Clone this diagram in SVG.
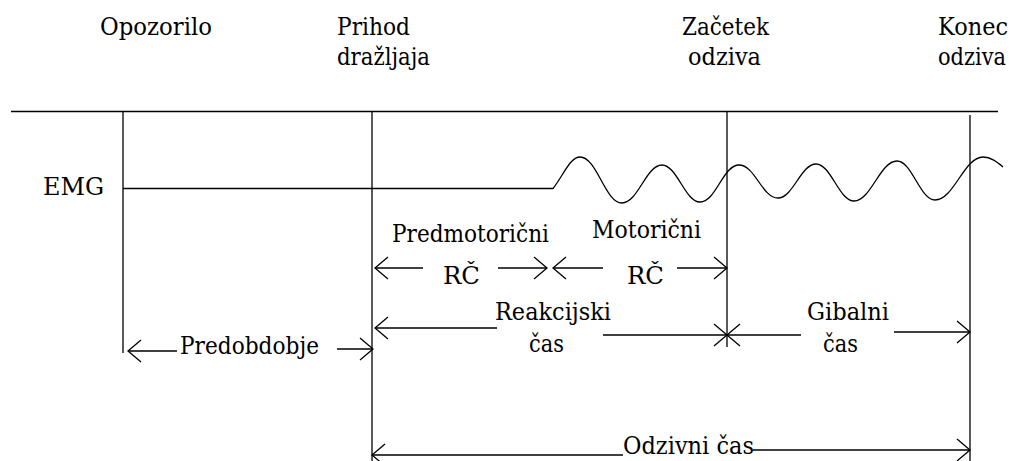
<svg xmlns="http://www.w3.org/2000/svg" width="1018" height="461" viewBox="0 0 1018 461">
<style>
.t text{font-family:"DejaVu Serif","Liberation Serif",serif;font-size:25px;fill:#000}
.ln{stroke:#000;stroke-width:1.3;fill:none}
.ar{stroke:#000;stroke-width:1.3;fill:none;marker-end:url(#ah)}
.al{stroke:#000;stroke-width:1.3;fill:none;marker-start:url(#ah)}
</style>
<defs>
<marker id="ah" markerUnits="userSpaceOnUse" viewBox="-15 -13 17 26" refX="0" refY="0" markerWidth="17" markerHeight="26" orient="auto-start-reverse">
<path d="M-13,-11 L0,0 L-13,11" fill="none" stroke="#000" stroke-width="1.3"/>
</marker>
</defs>
<rect width="1018" height="461" fill="#fff"/>
<g id="connectors">
<line class="ln" x1="11" y1="111.5" x2="998" y2="111.5"/>
<line class="ln" x1="123" y1="111" x2="123" y2="353"/>
<line class="ln" x1="372" y1="111" x2="372" y2="461"/>
<line class="ln" x1="727" y1="111" x2="727" y2="347"/>
<line class="ln" x1="970" y1="115" x2="970" y2="461"/>
<path id="emg" class="ln" d="M123,188.5 L553,188.5 C563,176 570,157 580,157 C597,157 605,203 622,203 C638,203 646,165 662,165 C677,165 685,202 700,202 C716,202 723,165 739,165 C755,165 762,198 778,198 C793,198 801,164 816,164 C831,164 839,201 854,201 C871,201 880,161 897,161 C912,161 920,200 935,200 C954,200 964,157 983,157 C991,157 997,162 1003,167"/>
<line class="al" x1="375" y1="268" x2="423" y2="268"/>
<line class="ar" x1="498" y1="268" x2="547" y2="268"/>
<line class="al" x1="553" y1="268" x2="603" y2="268"/>
<line class="ar" x1="677" y1="268" x2="727" y2="268"/>
<line class="al" x1="128" y1="351" x2="177" y2="351"/>
<line class="ar" x1="337" y1="349" x2="373" y2="349"/>
<line class="al" x1="375" y1="328" x2="497" y2="328"/>
<line class="ar" x1="603" y1="335" x2="727" y2="335"/>
<line class="al" x1="727" y1="335" x2="801" y2="335"/>
<line class="ar" x1="894" y1="332" x2="970" y2="332"/>
<line class="al" x1="372" y1="455" x2="623" y2="455"/>
<line class="ar" x1="753" y1="450" x2="970" y2="450"/>
</g>
<g class="t">
<g id="opozorilo"><text x="100" y="35" textLength="112" lengthAdjust="spacingAndGlyphs">Opozorilo</text></g>
<g id="prihod"><text x="337" y="35" textLength="73" lengthAdjust="spacingAndGlyphs">Prihod</text><text x="337" y="65" textLength="93" lengthAdjust="spacingAndGlyphs">dražljaja</text></g>
<g id="zacetek"><text x="682" y="35" textLength="87" lengthAdjust="spacingAndGlyphs">Začetek</text><text x="688" y="65" textLength="73" lengthAdjust="spacingAndGlyphs">odziva</text></g>
<g id="konec"><text x="938" y="35" textLength="70" lengthAdjust="spacingAndGlyphs">Konec</text><text x="938" y="65" textLength="68" lengthAdjust="spacingAndGlyphs">odziva</text></g>
<g id="emg-label"><text x="43" y="195" textLength="61" lengthAdjust="spacingAndGlyphs">EMG</text></g>
<g id="predmotoricni"><text x="392" y="242" textLength="157" lengthAdjust="spacingAndGlyphs">Predmotorični</text><text x="443" y="284" textLength="37" lengthAdjust="spacingAndGlyphs">RČ</text></g>
<g id="motoricni"><text x="592" y="238" textLength="109" lengthAdjust="spacingAndGlyphs">Motorični</text><text x="627" y="284" textLength="37" lengthAdjust="spacingAndGlyphs">RČ</text></g>
<g id="reakcijski"><text x="495" y="320" textLength="116" lengthAdjust="spacingAndGlyphs">Reakcijski</text><text x="529" y="352" textLength="35" lengthAdjust="spacingAndGlyphs">čas</text></g>
<g id="gibalni"><text x="807" y="320" textLength="82" lengthAdjust="spacingAndGlyphs">Gibalni</text><text x="823" y="352" textLength="35" lengthAdjust="spacingAndGlyphs">čas</text></g>
<g id="predobdobje"><text x="180" y="354" textLength="139" lengthAdjust="spacingAndGlyphs">Predobdobje</text></g>
<g id="odzivni"><text x="623" y="454" textLength="131" lengthAdjust="spacingAndGlyphs">Odzivni čas</text></g>
</g>
</svg>
